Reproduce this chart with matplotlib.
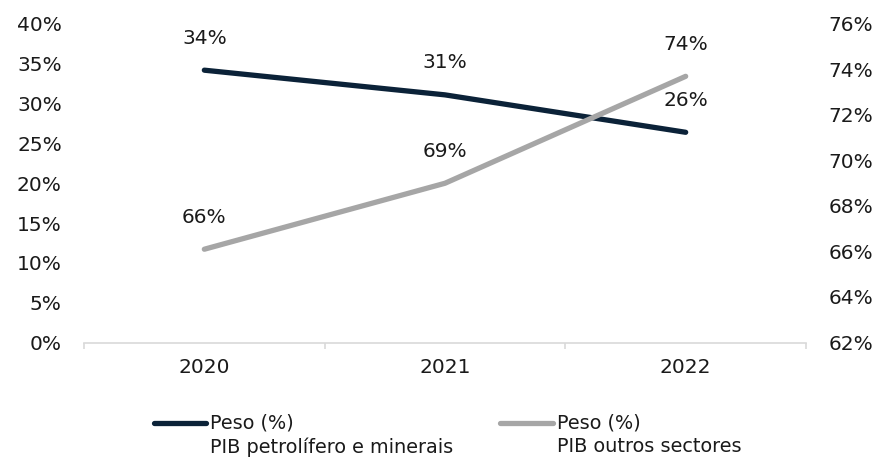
import matplotlib
matplotlib.use("Agg")
import matplotlib.pyplot as plt
from matplotlib.lines import Line2D
from matplotlib.ticker import FixedLocator, NullFormatter

plt.rcParams['font.family'] = ['DejaVu Sans']

years = ["2020", "2021", "2022"]
oil_share = [34.2, 31.1, 26.4]        # left axis, %
other_share = [66.1, 69.0, 73.7]      # right axis, %
oil_labels = ["34%", "31%", "26%"]
other_labels = ["66%", "69%", "74%"]
legend_oil = ["Peso (%)", "PIB petrolífero e minerais"]
legend_other = ["Peso (%)", "PIB outros sectores"]

navy = "#0B2238"
gray = "#A6A6A6"
txt = "#1a1a1a"
fs = 14.5

fig = plt.figure(figsize=(8.77, 4.59), dpi=100)
ax = fig.add_axes([84/877, 1-342.5/459, (806-84)/877, (342.5-24)/459])
ax2 = ax.twinx()

x = list(range(len(years)))
ax.plot(x, oil_share, color=navy, lw=3.8, solid_capstyle='round', zorder=3)
ax2.plot(x, other_share, color=gray, lw=3.8, solid_capstyle='round', zorder=3)

for xi, v, l in zip(x, oil_share, oil_labels):
    ax.annotate(l, (xi, v), xytext=(0, 23), textcoords='offset points',
                ha='center', va='center', fontsize=fs, color=txt)
for xi, v, l in zip(x, other_share, other_labels):
    ax2.annotate(l, (xi, v), xytext=(0, 23), textcoords='offset points',
                 ha='center', va='center', fontsize=fs, color=txt)

ax.set_xlim(-0.5, 2.5)
ax.set_ylim(0, 40)
ax2.set_ylim(62, 76)
ax.set_yticks(range(0, 41, 5))
ax.set_yticklabels([f"{v}%" for v in range(0, 41, 5)])
ax2.set_yticks(range(62, 77, 2))
ax2.set_yticklabels([f"{v}%" for v in range(62, 77, 2)])

ax.set_xticks(x)
ax.set_xticklabels(years)
ax.xaxis.set_minor_locator(FixedLocator([-0.5, 0.5, 1.5, 2.5]))
ax.xaxis.set_minor_formatter(NullFormatter())
ax.tick_params(axis='x', which='major', length=0, pad=11, labelsize=fs, labelcolor=txt)
ax.tick_params(axis='x', which='minor', length=4.3, width=1.2, color="#D9D9D9", direction='out')
ax.tick_params(axis='y', length=0, pad=16, labelsize=fs, labelcolor=txt)
ax2.tick_params(axis='y', length=0, pad=16, labelsize=fs, labelcolor=txt)

for a in (ax, ax2):
    for s in ('top', 'left', 'right', 'bottom'):
        a.spines[s].set_visible(False)
ax.spines['bottom'].set_visible(True)
ax.spines['bottom'].set_color("#D9D9D9")
ax.spines['bottom'].set_linewidth(1.2)

# legend drawn manually (two-line labels with handle on first line)
y1 = 1 - 423/459
y2 = 1 - 447/459
for (xa, xb, xt, col, lab) in [(154, 206, 210, navy, legend_oil), (500, 553, 557, gray, legend_other)]:
    fig.add_artist(Line2D([xa/877, xb/877], [y1, y1], transform=fig.transFigure,
                          color=col, lw=3.8, solid_capstyle='round'))
    fig.text(xt/877, y1, lab[0], ha='left', va='center', fontsize=13.9, color=txt)
    fig.text(xt/877, y2, lab[1], ha='left', va='center', fontsize=13.9, color=txt)

fig.savefig("out.png", dpi=100, facecolor="white")
